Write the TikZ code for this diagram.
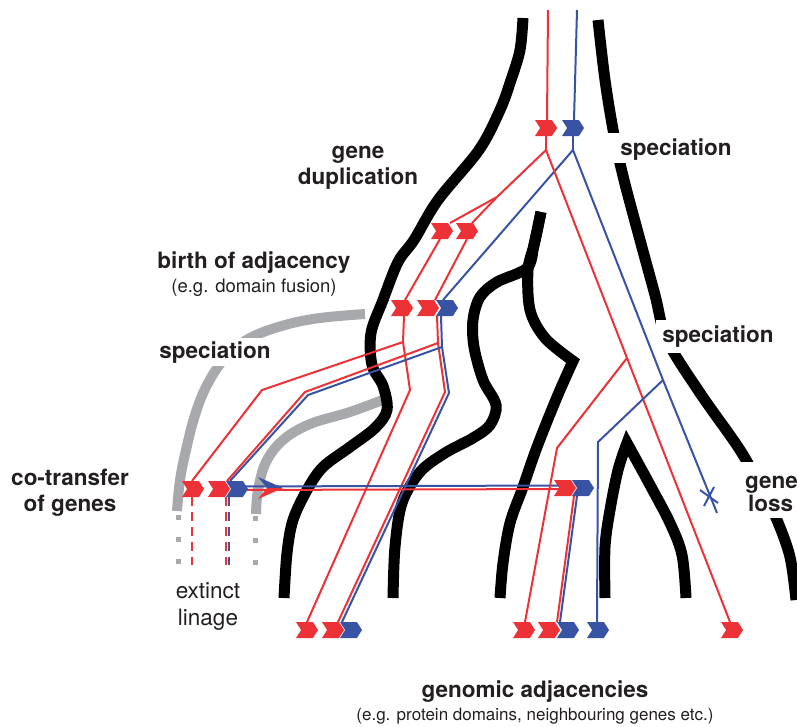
\documentclass[tikz,border=0pt]{standalone}
\usepackage{fontspec}
\setmainfont{TeX Gyre Heros}
\usetikzlibrary{shapes.symbols}
\definecolor{gred}{HTML}{ED3237}
\definecolor{gblue}{HTML}{3953A4}
\definecolor{ggray}{HTML}{A7A9AC}
\definecolor{gtext}{HTML}{231F20}
\pgfdeclarelayer{back}
\pgfdeclarelayer{mid}
\pgfsetlayers{back,mid,main}
\begin{document}
\begin{tikzpicture}[x=1pt,y=-1pt,
  blk/.style={line width=11pt, black, line join=miter},
  gry/.style={line width=10pt, ggray},
  gdots/.style={line width=5pt, ggray, dash pattern=on 5pt off 17pt},
  rl/.style={gred, line width=2pt, line join=round},
  bl/.style={gblue, line width=2pt, line join=round},
  rdash/.style={rl, dash pattern=on 9pt off 6pt},
  bdash/.style={bl, dash pattern=on 9pt off 6pt},
  mk/.style={signal, signal to=east, signal from=west, signal pointer angle=115,
    minimum width=22pt, minimum height=16pt, inner sep=0pt, outer sep=0pt, draw=none},
  rm/.style={mk, fill=gred},
  bm/.style={mk, fill=gblue},
  lab/.style={font=\fontsize{22.5}{26}\selectfont\bfseries, text=gtext, inner sep=0pt, anchor=base},
  reg/.style={font=\fontsize{22.5}{26}\selectfont, text=gtext, inner sep=0pt, anchor=base},
  subA/.style={font=\fontsize{18.5}{22}\selectfont, text=gtext, inner sep=0pt, anchor=base},
  subB/.style={font=\fontsize{17}{20}\selectfont, text=gtext, inner sep=0pt, anchor=base},
  gap/.style={fill=white, draw=none}
]
\useasboundingbox (0,0) rectangle (797,726);

% ---------- gene markers ----------
\node[rm] (r0) at (546,128) {};
\node[bm] (b0) at (573,128) {};
\node[rm] (r1) at (442,231) {};
\node[rm] (r2) at (467,231) {};
\node[rm] (r3) at (402,308) {};
\node[rm] (r4) at (428,308) {};
\node[bm] (b4) at (447,308) {};
\node[rm] (r5) at (193,489) {};
\node[rm] (r6) at (219,489) {};
\node[bm] (b6) at (237,489) {};
\node[rm] (r7) at (565,488) {};
\node[bm] (b7) at (583,488) {};
\node[rm] (r8) at (307,630) {};
\node[rm] (r9) at (333,630) {};
\node[bm] (b9) at (351,630) {};
\node[rm] (r10) at (524,630) {};
\node[rm] (r11) at (549,630) {};
\node[bm] (b11) at (568,630) {};
\node[bm] (b12) at (598,630) {};
\node[rm] (r13) at (732,630) {};

% ---------- branch points ----------
\coordinate (topR) at (548,10);
\coordinate (topB) at (577,10);
\coordinate (sR) at (546,150);
\coordinate (sB) at (573,150);
\coordinate (dR) at (497,197);
\coordinate (sR2) at (627,358);
\coordinate (sB2) at (663,380);
\coordinate (lossB) at (717,513);
\coordinate (sL1) at (403,342);
\coordinate (jR) at (438,343);
\coordinate (jB) at (442,347);
\coordinate (e1) at (192,565);
\coordinate (e2) at (226,565);
\coordinate (e3) at (229,565);

\begin{pgfonlayer}{back}
  % extinct lineages (gray)
  \draw[gry] plot[smooth, tension=0.6] coordinates {(365,314) (320,318) (285,325) (250,338) (225,358) (207,385) (195,415) (186,450) (180,480) (177,511)};
  \draw[gry] plot[smooth, tension=0.6] coordinates {(385,399) (350,412) (310,424) (283,440) (266,462) (258,490) (256,514)};
  \draw[gdots] (178,515) -- (178,566);
  \draw[gdots] (255,516) -- (255,568);
  % species tree (black)
  \draw[blk] plot[smooth, tension=0.55] coordinates {(523,18) (520,50) (511,80) (500,110) (479,150) (438,200) (414,240) (398,262) (383,300) (371,333) (372,365) (383,386) (387,410) (375,428) (350,447) (323,467) (307,490) (293,520) (287,553) (284,598)};
  \draw[blk] plot[smooth, tension=0.55] coordinates {(541,212) (534,245) (527,268) (497,282) (480,297) (473,320) (474,347) (483,380) (496,405) (490,425) (473,438) (445,453) (420,472) (402,503) (395,547) (393,598)};
  \draw[blk] plot[smooth, tension=0.55] coordinates {(541,212) (534,245) (528,270) (530,310) (545,338) (573,361)}
     -- plot[smooth, tension=0.55] coordinates {(573,361) (557,397) (537,447) (523,487) (510,523) (503,563) (500,598)};
  \draw[blk] plot[smooth, tension=0.55] coordinates {(598,20) (605,80) (614,135) (624,180) (640,240) (655,295) (667,340) (700,393) (740,450) (762,490) (777,520) (790,557) (796,600)};
  \draw[blk] plot[smooth, tension=0.55] coordinates {(605,598) (605,547) (610,510) (618,470) (627,443)}
     -- plot[smooth, tension=0.55] coordinates {(627,443) (650,485) (670,523) (682,555) (686,598)};
  % label gaps
  \fill[gap] (605,133) rectangle (737,163);
  \fill[gap] (656,320) rectangle (778,353);
  \fill[gap] (738,462) rectangle (797,518);
\end{pgfonlayer}

\begin{pgfonlayer}{mid}
  % root genes and first speciation
  \draw[rl] (topR) -- ([xshift=1pt]r0.north);
  \draw[bl] (topB) -- ([xshift=1pt]b0.north);
  \draw[rl] (r0.south) -- (sR);
  \draw[bl] (b0.south) -- (sB);
  % gene duplication
  \draw[rl] (sR) -- (dR);
  \draw[rl] (dR) -- ([xshift=8pt]r1.north);
  \draw[rl] (dR) -- ([xshift=5pt]r2.north);
  % birth of adjacency
  \draw[rl] ([xshift=-2pt]r1.south) -- ([xshift=3pt]r3.north);
  \draw[rl] (r2.south) -- ([xshift=7pt]r4.north);
  \draw[bl] (sB) -- ([xshift=-4pt]b4.north);
  % left speciation
  \draw[rl] ([xshift=2pt]r3.south) -- (sL1);
  \draw[rl] (sL1) -- (410,390) -- (r8.north);
  \draw[rl] (sL1) -- (262,390) -- ([xshift=-1pt]r5.north);
  \draw[rl] ([xshift=9pt]r4.south) -- (jR);
  \draw[bl] ([xshift=-6pt]b4.south) -- (jB);
  \draw[rl] (jR) -- (445,392) -- ([xshift=5pt]r9.north);
  \draw[bl] (jB) -- (449,393) -- ([xshift=-9pt]b9.north);
  \draw[rl] (jR) -- (305,392) -- ([xshift=8pt]r6.north);
  \draw[bl] (jB) -- (308,395) -- ([xshift=-7pt]b6.north);
  % extinct lineage
  \draw[rdash] ([xshift=-1pt]r5.south) -- (e1);
  \draw[rdash] ([xshift=7pt]r6.south) -- (e2);
  \draw[bdash] ([xshift=-8pt]b6.south) -- (e3);
  % co-transfer
  \draw[bl] ([yshift=2.5pt]b6.center) -- ([yshift=2.5pt]r7.center);
  \draw[rl] ([yshift=-1pt]b6.center) -- ([yshift=-1pt]r7.center);
  \fill[gblue] (258,477) -- (283,488) -- (267,488) -- cycle;
  \fill[gred] (258,499) -- (283,488) -- (267,488) -- cycle;
  \draw[rl] ([xshift=9pt]r7.south) -- ([xshift=8pt]r11.north);
  \draw[bl] ([xshift=-6pt]b7.south) -- ([xshift=-8pt]b11.north);
  % right speciations
  \draw[rl] (sR) -- (sR2) -- ([xshift=-2pt]r13.north);
  \draw[rl] (sR2) -- (557,448) -- ([xshift=1pt]r10.north);
  \draw[bl] (sB) -- (sB2) -- (lossB);
  \draw[bl] (sB2) -- (598,442) -- ([xshift=-1pt]b12.north);
  % gene loss cross
  \draw[bl] (700,490) -- (718,503);
  \draw[bl] (714,487) -- (704,506);
\end{pgfonlayer}

% ---------- labels ----------
\node[lab] (tDup1) at (358,158) {gene};
\node[lab] (tDup2) at (358,184) {duplication};
\node[lab] (tSpec1) at (676,155) {speciation};
\node[lab] (tBirth) at (254,268) {birth of adjacency};
\node[subA] (tBirthSub) at (254,292) {(e.g. domain fusion)};
\node[lab, fill=white, inner sep=3pt] (tSpec2) at (215,358) {speciation};
\node[lab] (tSpec3) at (718,342) {speciation};
\node[lab] (tCo1) at (70,485) {co-transfer};
\node[lab] (tCo2) at (70,511) {of genes};
\node[lab, anchor=base west] (tLoss1) at (745,488) {gene};
\node[lab, anchor=base west] (tLoss2) at (748,511) {loss};
\node[reg] (tExt1) at (208,598) {extinct};
\node[reg] (tExt2) at (208,625) {linage};
\node[lab] (tGen) at (535,697) {genomic adjacencies};
\node[subB] (tGenSub) at (535,720) {(e.g. protein domains, neighbouring genes etc.)};
\end{tikzpicture}
\end{document}
